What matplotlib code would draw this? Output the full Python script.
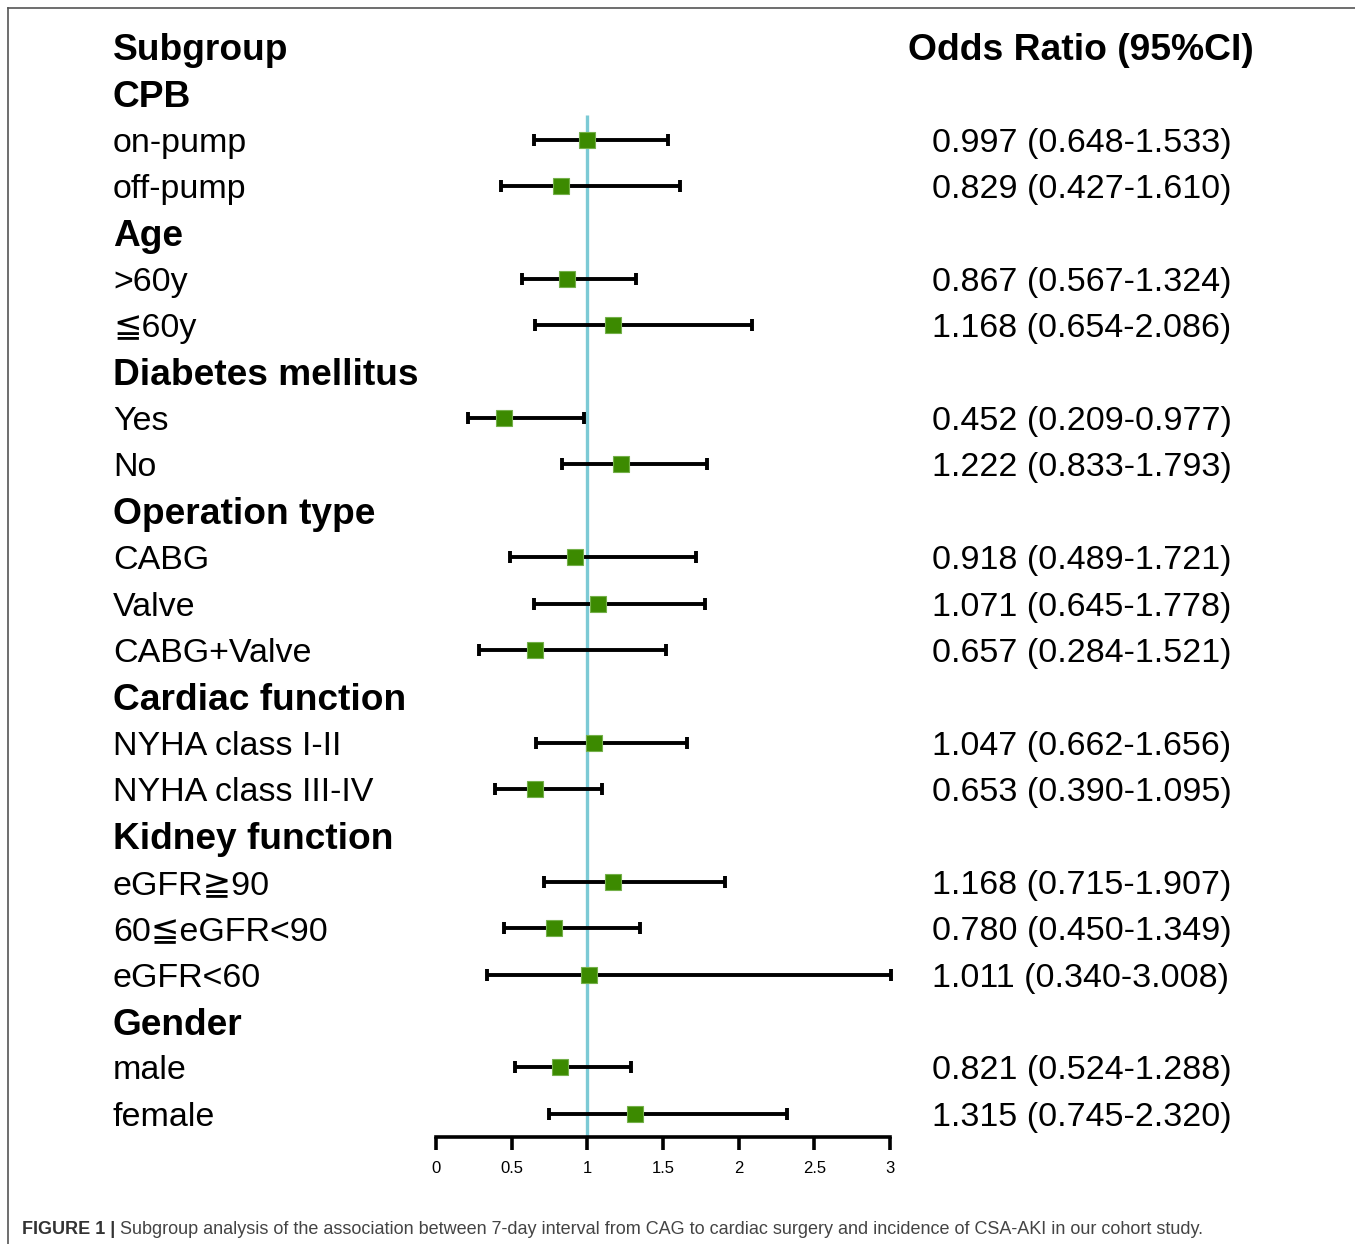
#!/usr/bin/env python3
"""Forest plot of subgroup odds ratios (7-day CAG interval vs CSA-AKI)."""

import matplotlib
matplotlib.use('Agg')
import matplotlib.pyplot as plt
import matplotlib.transforms as mtransforms
from matplotlib.lines import Line2D

plt.rcParams['font.family'] = ['Liberation Sans', 'DejaVu Sans']

# groups and their subgroups
GROUPS = ['CPB', 'Age', 'Diabetes mellitus', 'Operation type',
          'Cardiac function', 'Kidney function', 'Gender']
GROUP_SIZES = [2, 2, 2, 3, 2, 3, 2]
SUBGROUPS = ['on-pump', 'off-pump',
             '>60y', '\u226660y',
             'Yes', 'No',
             'CABG', 'Valve', 'CABG+Valve',
             'NYHA class I-II', 'NYHA class III-IV',
             'eGFR\u226790', '60\u2266eGFR<90', 'eGFR<60',
             'male', 'female']
OR = [0.997, 0.829, 0.867, 1.168, 0.452, 1.222, 0.918, 1.071, 0.657,
      1.047, 0.653, 1.168, 0.780, 1.011, 0.821, 1.315]
CI_LOW = [0.648, 0.427, 0.567, 0.654, 0.209, 0.833, 0.489, 0.645, 0.284,
          0.662, 0.390, 0.715, 0.450, 0.340, 0.524, 0.745]
CI_HIGH = [1.533, 1.610, 1.324, 2.086, 0.977, 1.793, 1.721, 1.778, 1.521,
           1.656, 1.095, 1.907, 1.349, 3.008, 1.288, 2.320]
XTICKS = [0, 0.5, 1, 1.5, 2, 2.5, 3]
XTICK_LABELS = ['0', '0.5', '1', '1.5', '2', '2.5', '3']

CAPTION_BOLD = 'FIGURE 1 | '
CAPTION = ('Subgroup analysis of the association between 7-day interval from CAG '
           'to cardiac surgery and incidence of CSA-AKI in our cohort study.')

W, H = 1355, 1244
GREEN = '#3c8a00'
GREEN_EDGE = '#74b04a'
REF_BLUE = '#7ccad5'

fig = plt.figure(figsize=(W / 100, H / 100), dpi=100)
fig.patch.set_facecolor('white')

# plot area: x 0..3 spans px 436..890, rows spaced ~46.4 px, axis line at px 1137
row_px = 46.4
top_px = 47 - row_px / 2
ax = fig.add_axes([436 / W, 1 - 1137 / H, (890 - 436) / W, (1137 - top_px) / H])

# row layout
group_rows, item_rows = [], []
r = 1
for g, n in zip(GROUPS, GROUP_SIZES):
    group_rows.append(r)
    r += 1
    for _ in range(n):
        item_rows.append(r)
        r += 1
n_rows = r

ax.set_xlim(0, 3)
ax.set_ylim(n_rows - 0.5, -0.5)

ax.vlines(1, 1.47, n_rows - 0.5, color=REF_BLUE, lw=2.4, zorder=1)

err_lo = [o - lo for o, lo in zip(OR, CI_LOW)]
err_hi = [hi - o for o, hi in zip(OR, CI_HIGH)]
ax.errorbar(OR, item_rows, xerr=[err_lo, err_hi], fmt='none', ecolor='black',
            elinewidth=2.8, capsize=4.5, capthick=2.8, zorder=2, clip_on=False)
ax.plot(OR, item_rows, 's', color=GREEN, markersize=11.8,
        markeredgecolor=GREEN_EDGE, markeredgewidth=0.8, zorder=3, clip_on=False)

for side in ['top', 'left', 'right']:
    ax.spines[side].set_visible(False)
ax.spines['bottom'].set_linewidth(2.6)
ax.set_yticks([])
ax.set_xticks(XTICKS)
ax.set_xticklabels(XTICK_LABELS, fontsize=12)
ax.tick_params(axis='x', direction='out', length=9, width=2.6, pad=8)
ax.patch.set_alpha(0)

# texts: x in figure fraction, y in row units
tr = mtransforms.blended_transform_factory(fig.transFigure, ax.transData)
ax.text(113 / W, 0, 'Subgroup', transform=tr, fontsize=26.7, fontweight='bold',
        va='center_baseline', ha='left', clip_on=False)
ax.text(908 / W, 0, 'Odds Ratio (95%CI)', transform=tr, fontsize=26.8,
        fontweight='bold', va='center_baseline', ha='left', clip_on=False)
for g, gr in zip(GROUPS, group_rows):
    ax.text(113 / W, gr, g, transform=tr, fontsize=26.7, fontweight='bold',
            va='center_baseline', ha='left', clip_on=False)
for lab, ir, o, lo, hi in zip(SUBGROUPS, item_rows, OR, CI_LOW, CI_HIGH):
    ax.text(113 / W, ir, lab, transform=tr, fontsize=24.5, va='center_baseline',
            ha='left', clip_on=False)
    ax.text(932 / W, ir, f'{o:.3f} ({lo:.3f}-{hi:.3f})', transform=tr,
            fontsize=24.5, va='center_baseline', ha='left', clip_on=False)

# frame lines (top and left)
fig.add_artist(Line2D([8 / W, 1], [1 - 8 / H, 1 - 8 / H], color='#555555', lw=1.2))
fig.add_artist(Line2D([8 / W, 8 / W], [0, 1 - 8 / H], color='#555555', lw=1.2))

# caption
cap_y = 1 - 1228 / H
t1 = fig.text(22 / W, cap_y, CAPTION_BOLD, fontsize=13, fontweight='bold',
              color='#333333', va='center_baseline', ha='left')
renderer = fig.canvas.get_renderer()
bb = t1.get_window_extent(renderer)
fig.text(bb.x1 / W, cap_y, CAPTION, fontsize=13, color='#444444',
         va='center_baseline', ha='left')

fig.savefig('out.png', dpi=100, facecolor='white')
